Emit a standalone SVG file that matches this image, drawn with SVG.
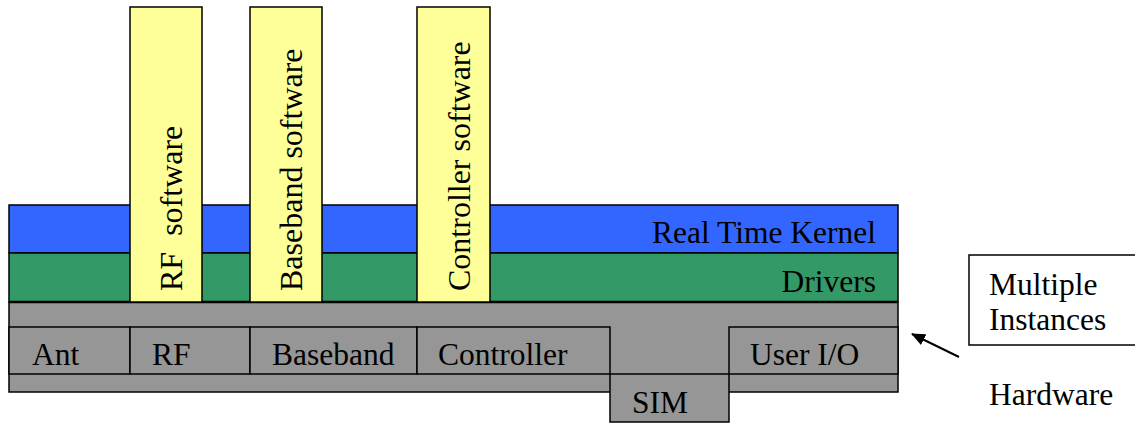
<svg xmlns="http://www.w3.org/2000/svg" width="1135" height="423" viewBox="0 0 1135 423">
<style>
.ln{stroke:#000;stroke-width:1.5}
.blue{fill:#3366FF}
.green{fill:#339966}
.grey{fill:#969696}
.yel{fill:#FFFF99}
.t{font-family:"Liberation Serif","Times New Roman",serif;font-size:31.5px;fill:#000}
.v{font-family:"Liberation Serif","Times New Roman",serif;font-size:32px;fill:#000}
</style>
<defs>
<marker id="ah" markerWidth="14" markerHeight="12" refX="13" refY="6" orient="auto" markerUnits="userSpaceOnUse" viewBox="0 0 14 12">
<path d="M0,0 L14,6 L0,12 z" fill="#000"/>
</marker>
</defs>
<g id="kernel">
<rect x="9" y="205" width="889" height="48" class="blue ln"/>
<text x="876" y="243" class="t" text-anchor="end">Real Time Kernel</text>
</g>
<g id="drivers">
<rect x="9" y="253" width="889" height="49" class="green ln"/>
<text x="876" y="292" class="t" text-anchor="end">Drivers</text>
</g>
<g id="hardware-base">
<rect x="9" y="302" width="889" height="90" class="grey ln"/>
<line x1="9" y1="302" x2="898" y2="302" stroke="#000" stroke-width="2.5"/>
</g>
<g id="sim">
<rect x="610" y="374" width="119" height="48" class="grey ln"/>
<text x="632" y="413" class="t">SIM</text>
</g>
<g id="ant">
<rect x="9" y="327" width="121" height="47" class="grey ln"/>
<text x="32" y="365" class="t">Ant</text>
</g>
<g id="rf">
<rect x="130" y="327" width="120" height="47" class="grey ln"/>
<text x="152" y="365" class="t">RF</text>
</g>
<g id="baseband">
<rect x="250" y="327" width="167" height="47" class="grey ln"/>
<text x="272" y="365" class="t">Baseband</text>
</g>
<g id="controller">
<rect x="417" y="327" width="193" height="47" class="grey ln"/>
<text x="438" y="365" class="t">Controller</text>
</g>
<g id="userio">
<rect x="729" y="327" width="169" height="47" class="grey ln"/>
<text x="750" y="365" class="t">User I/O</text>
</g>
<g id="rf-software">
<rect x="130" y="7" width="72" height="295" class="yel ln"/>
<text transform="translate(182,291) rotate(-90)" class="v" xml:space="preserve">RF  software</text>
</g>
<g id="baseband-software">
<rect x="250" y="7" width="72" height="295" class="yel ln"/>
<text transform="translate(302,291) rotate(-90)" class="v">Baseband software</text>
</g>
<g id="controller-software">
<rect x="417" y="7" width="73" height="295" class="yel ln"/>
<text transform="translate(470,291) rotate(-90)" class="v">Controller software</text>
</g>
<g id="multiple-instances">
<rect x="969" y="255" width="200" height="90" fill="#fff" class="ln"/>
<text x="989" y="295" class="t">Multiple</text>
<text x="989" y="330" class="t">Instances</text>
</g>
<g id="hardware-label">
<text x="989" y="405" class="t">Hardware</text>
</g>
<g id="connectors">
<line x1="959" y1="357" x2="912" y2="334" stroke="#000" stroke-width="2" marker-end="url(#ah)"/>
</g>
</svg>
